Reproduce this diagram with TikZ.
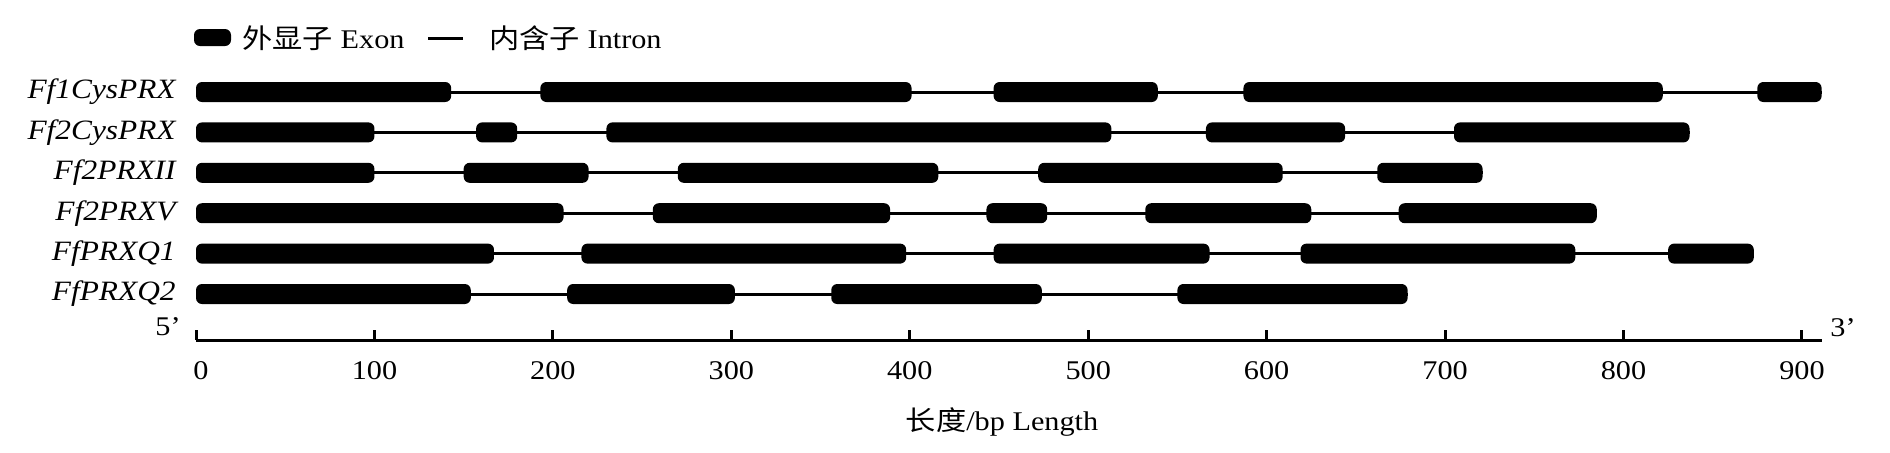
\documentclass[tikz,border=0pt]{standalone}
\usepackage{fontspec}
\setmainfont{Liberation Serif}[FakeStretch=1.12]
\newfontfamily\cjk{Noto Sans CJK SC}[FakeStretch=1.12]
\begin{document}
\begin{tikzpicture}[x=0.5pt,y=-0.5pt,font=\fontsize{13.5}{16}\selectfont]
\tikzset{
  exon/.style={fill=black,rounded corners=3pt},
  intron/.style={line width=1.5pt},
  axisline/.style={line width=1.5pt},
  genelabel/.style={anchor=east,inner sep=0pt,font=\fontsize{14}{16}\selectfont\itshape},
  txt/.style={inner sep=0pt}
}
\useasboundingbox[fill=white] (0,0) rectangle (1890,452);
% legend
\fill[exon] (194,29) rectangle (231,46);
\node[txt,anchor=west] (legex) at (242,38) {{\cjk 外显子} Exon};
\coordinate (ldA) at (428,38);
\coordinate (ldB) at (463,38);
\draw[intron] (ldA) -- (ldB);
\node[txt,anchor=west] (legin) at (489,38) {{\cjk 内含子} Intron};
% genes
\foreach \yy/\gname/\glast/\exons in {
  92/Ff1CysPRX/911/{0/143,193/401,447/539,587/822,875/911},
  132.4/Ff2CysPRX/837/{0/100,157/180,230/513,566/644,705/837},
  172.8/Ff2PRXII/721/{0/100,150/220,270/416,472/609,662/721},
  213.2/Ff2PRXV/785/{0/206,256/389,443/477,532/625,674/785},
  253.6/FfPRXQ1/873/{0/167,216/398,447/568,619/773,825/873},
  294/FfPRXQ2/679/{0/154,208/302,356/474,550/679}}{
  \node[genelabel] (lab\gname) at (176,\yy) {\gname};
  \coordinate (s\gname) at (196,\yy);
  \coordinate (e\gname) at ({196+1.7844*\glast},\yy);
  \draw[intron] (s\gname) -- (e\gname);
  \foreach \a/\b in \exons {
    \fill[exon] ({196+1.7844*\a},{\yy-10}) rectangle ({196+1.7844*\b},{\yy+10});
  }
}
% axis
\coordinate (ax0) at (196,340);
\coordinate (axE) at (1822,340);
\draw[axisline] (ax0) -- (axE);
\foreach \t/\lab in {0/0,1/100,2/200,3/300,4/400,5/500,6/600,7/700,8/800,9/900}{
  \coordinate (tk\t) at ({196+178.44*\t},340);
  \coordinate (tt\t) at ({196+178.44*\t},330);
  \draw[axisline] (tk\t) -- (tt\t);
  \node[txt] (tl\t) at ({196+178.44*\t+(\t==0?5:0)},371) {\lab};
}
\node[txt] (five) at (168,327) {5’};
\node[txt] (three) at (1843,328) {3’};
\node[txt] (xlab) at (1002,422) {{\cjk 长度}/bp Length};
\end{tikzpicture}
\end{document}
